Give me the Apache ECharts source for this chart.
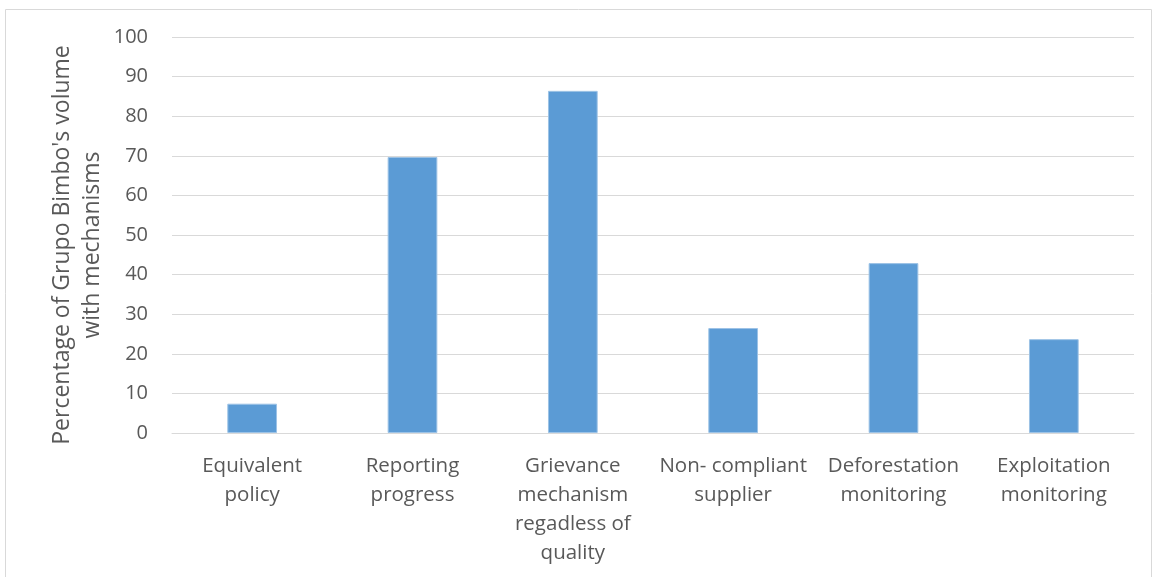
<!DOCTYPE html>
<html>
<head>
<meta charset="utf-8">
<script src="https://cdn.jsdelivr.net/npm/echarts@6/dist/echarts.min.js"></script>
<style>
html,body{margin:0;padding:0;background:#fff;}
#chart{width:1152px;height:577px;}
</style>
</head>
<body>
<div id="chart"></div>
<script>
const categories = ["Equivalent\npolicy", "Reporting\nprogress", "Grievance\nmechanism\nregadless of\nquality", "Non- compliant\nsupplier", "Deforestation\nmonitoring", "Exploitation\nmonitoring"];
const values = [7.4, 69.7, 86.4, 26.5, 42.9, 23.7];
const yTicks = {min: 0, max: 100, interval: 10};
const yTitle = "Percentage of Grupo Bimbo's volume\nwith mechanisms";

const chart = echarts.init(document.getElementById('chart'));
const font = "'Open Sans', sans-serif";
chart.setOption({
  animation: false,
  graphic: [{
    type: 'rect', left: 3, top: 7, shape: {width: 1146, height: 580},
    style: {fill: 'none', stroke: '#D9D9D9', lineWidth: 1}, silent: true
  }, {
    type: 'text', x: 77, y: 245, rotation: Math.PI / 2, silent: true,
    style: {
      text: yTitle, fill: '#595959', font: "23px 'Open Sans', sans-serif",
      align: 'center', verticalAlign: 'middle', lineHeight: 30
    }
  }],
  grid: {left: 172, right: 18, top: 37, bottom: 144},
  xAxis: {
    type: 'category',
    data: categories,
    axisLine: {show: true, lineStyle: {color: '#D9D9D9', width: 1}},
    axisTick: {show: false},
    axisLabel: {color: '#595959', fontSize: 20.5, fontFamily: font, lineHeight: 29, margin: 19, interval: 0}
  },
  yAxis: {
    type: 'value',
    min: yTicks.min, max: yTicks.max, interval: yTicks.interval,
    axisLine: {show: false},
    axisTick: {show: false},
    splitLine: {lineStyle: {color: '#D9D9D9', width: 1}},
    axisLabel: {color: '#595959', fontSize: 20, fontFamily: font, margin: 24}
  },
  series: [{
    type: 'bar',
    data: values,
    barWidth: '31%',
    itemStyle: {color: '#5B9BD5', borderColor: '#9DC3E6', borderWidth: 1}
  }]
});
</script>
</body>
</html>
